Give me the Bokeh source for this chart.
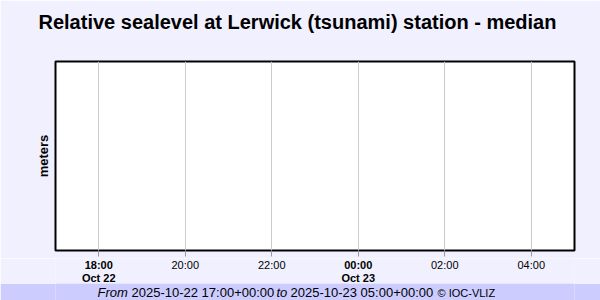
import pandas as pd
from bokeh.plotting import figure
from bokeh.models import Range1d, FixedTicker, Label, Title
from bokeh.layouts import column
from bokeh.embed import file_html
from bokeh.resources import INLINE

# ---------------- data ----------------
title_text = "Relative sealevel at Lerwick (tsunami) station - median"
y_label = "meters"
range_start = "2025-10-22 17:00"
range_end = "2025-10-23 05:00"
tick_times = ["2025-10-22 18:00", "2025-10-22 20:00", "2025-10-22 22:00",
              "2025-10-23 00:00", "2025-10-23 02:00", "2025-10-23 04:00"]
tick_labels = ["18:00", "20:00", "22:00", "00:00", "02:00", "04:00"]
tick_dates = ["Oct 22", "", "", "Oct 23", "", ""]
sea_level_times = []      # no data in the period
sea_level_values = []
footer_texts = ["From", "2025-10-22 17:00+00:00", "to", "2025-10-23 05:00+00:00", "\u00a9 IOC-VLIZ"]
footer_styles = ["italic", "normal", "italic", "normal", "normal"]

FONT = "Liberation Sans"
BG = "#f0f0ff"
W = 600
H_MAIN, H_TICKS, H_FOOT = 258, 25, 17
FL, FR = 55, 574  # frame left / right in pixels


def ms(t):
    return pd.Timestamp(t).value // 10**6


x0, x1 = ms(range_start), ms(range_end)
tick_ms = [ms(t) for t in tick_times]
shared_x = Range1d(x0, x1)

# ---------------- main plot ----------------
p = figure(width=W, height=H_MAIN, x_axis_type="datetime",
           x_range=shared_x, y_range=Range1d(0, 1),
           output_backend="svg", toolbar_location=None, title=None,
           background_fill_color="white", border_fill_color=BG,
           min_border_left=FL, min_border_right=W - FR,
           min_border_top=61, min_border_bottom=8,
           outline_line_color="black", outline_line_width=2)

p.line([pd.Timestamp(t) for t in sea_level_times], sea_level_values,
       line_color="#1f77b4", line_width=1)

# title (a blank spacer panel pushes it up toward the canvas top)
p.add_layout(Title(text=" ", text_font=FONT, text_font_size="11px"), "above")
p.add_layout(Title(text=title_text, align="left", offset=-17,
                   text_font=FONT, text_font_size="20px",
                   text_font_style="bold", text_color="black"), "above")

# y axis: only the label
ya = p.yaxis[0]
ya.ticker = FixedTicker(ticks=[])
ya.axis_line_color = None
ya.major_tick_line_color = None
ya.minor_tick_line_color = None
ya.major_label_standoff = 0
ya.axis_label = y_label
ya.axis_label_standoff = 5
ya.axis_label_text_font = FONT
ya.axis_label_text_font_size = "13px"
ya.axis_label_text_font_style = "bold"
ya.axis_label_text_color = "black"
p.ygrid.visible = False

# x axis: tick marks only (labels are drawn in the strip below)
xa = p.xaxis[0]
xa.ticker = FixedTicker(ticks=tick_ms)
xa.axis_line_color = None
xa.major_tick_in = 0
xa.major_tick_out = 6
xa.minor_tick_in = 0
xa.minor_tick_out = 0
xa.major_tick_line_color = "#999999"
xa.minor_tick_line_color = None
xa.major_label_standoff = 0
xa.major_label_overrides = {float(t): "" for t in tick_ms}
p.xgrid.ticker = FixedTicker(ticks=tick_ms)
p.xgrid.grid_line_color = "#cccccc"

# ---------------- tick-label strip (same x scale) ----------------
t = figure(width=W, height=H_TICKS, x_axis_type="datetime",
           x_range=shared_x, y_range=Range1d(0, H_TICKS),
           output_backend="svg", toolbar_location=None,
           background_fill_color=BG, border_fill_color=BG,
           min_border=0, min_border_left=FL, min_border_right=W - FR,
           outline_line_color=None)
t.xaxis.visible = False
t.yaxis.visible = False
t.grid.visible = False
for tm, lab, d in zip(tick_ms, tick_labels, tick_dates):
    style = "bold" if d else "normal"
    t.add_layout(Label(x=tm, y=H_TICKS - 6.5, text=lab, text_font=FONT,
                       text_font_size="11px", text_font_style=style,
                       text_align="center", text_baseline="middle",
                       text_color="black"))
    if d:
        t.add_layout(Label(x=tm, y=H_TICKS - 19, text=d, text_font=FONT,
                           text_font_size="11px", text_font_style="bold",
                           text_align="center", text_baseline="middle",
                           text_color="black"))

# ---------------- footer strip (data == pixels) ----------------
f = figure(width=W, height=H_FOOT, x_range=Range1d(FL, FR), y_range=Range1d(0, H_FOOT),
           output_backend="svg", toolbar_location=None,
           background_fill_color="#ccccff", border_fill_color="#ccccff",
           min_border=0, min_border_left=FL, min_border_right=W - FR,
           outline_line_color=None)
f.xaxis.visible = False
f.yaxis.visible = False
f.grid.visible = False
footer_x = [97, 131, 276, 290, 437]
for xx, txt, st in zip(footer_x, footer_texts, footer_styles):
    size = "11px" if txt.startswith("\u00a9") else "13px"
    f.add_layout(Label(x=xx, y=8, text=txt, text_font=FONT, text_font_size=size,
                       text_font_style=st, text_align="left",
                       text_baseline="middle", text_color="black"))

layout = column(p, t, f, spacing=0)
open("out.html", "w").write(file_html(layout, INLINE))
